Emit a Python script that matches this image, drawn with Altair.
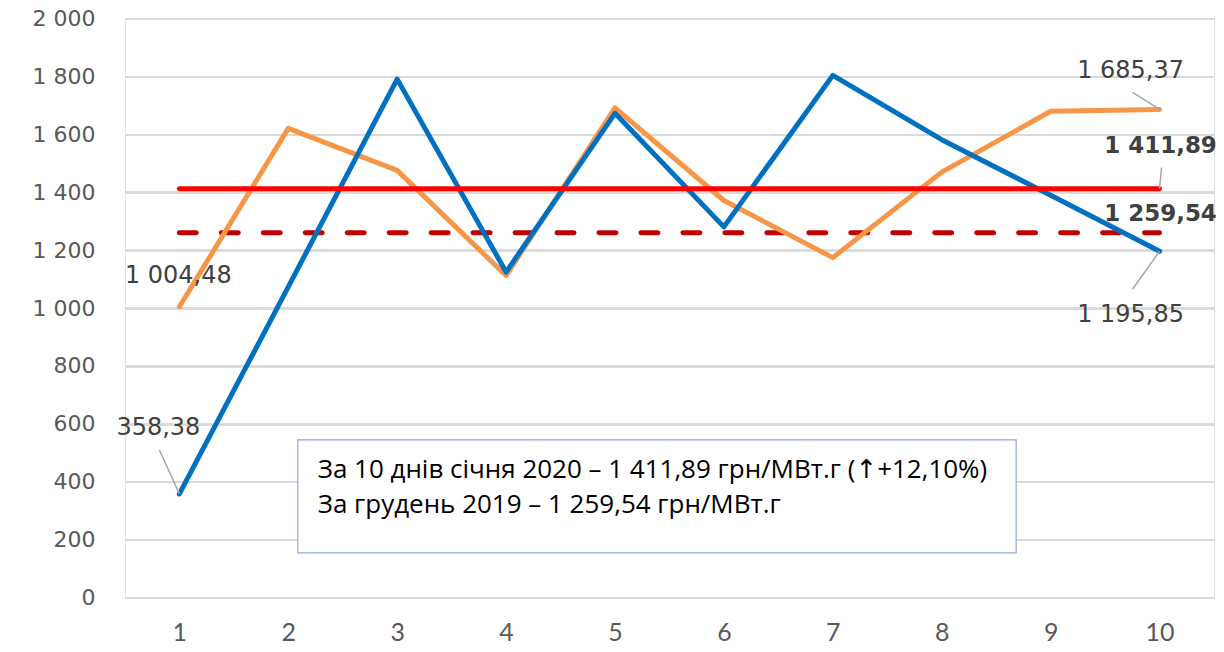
import altair as alt
import pandas as pd

# ---- data ----
days = [str(i) for i in range(1, 11)]
blue_vals = [358.38, 1073, 1790, 1124, 1672, 1280, 1803, 1581, 1389, 1195.85]
orange_vals = [1004.48, 1620, 1475, 1112, 1691, 1371, 1174, 1469, 1679, 1685.37]
avg_jan_2020 = 1411.89
avg_dec_2019 = 1259.54
y_ticks = list(range(0, 2001, 200))
box_lines = [
    "За 10 днів січня 2020 – 1 411,89 грн/МВт.г (↑+12,10%)",
    "За грудень 2019 – 1 259,54 грн/МВт.г",
]

BLUE = "#0070C0"
ORANGE = "#F79646"
RED = "#FF0000"
DARKRED = "#C00000"
GRID = "#D9D9D9"
LABEL = "#404040"
TICK = "#595959"
LEADER = "#A6A6A6"
LABEL_FONT = "DejaVu Sans"
XFONT = "Lato"
BOX_FONT = "Open Sans, DejaVu Sans"


def fmt(v):
    s = f"{v:,.2f}"
    return s.replace(",", " ").replace(".", ",")


series_df = pd.DataFrame({
    "day": days * 2,
    "value": blue_vals + orange_vals,
    "series": ["blue"] * 10 + ["orange"] * 10,
})
ref_df = pd.DataFrame({
    "day": days * 2,
    "value": [avg_jan_2020] * 10 + [avg_dec_2019] * 10,
    "series": ["jan"] * 10 + ["dec"] * 10,
})

x_enc = alt.X(
    "day:O", sort=days,
    scale=alt.Scale(type="point", padding=0.5),
    axis=alt.Axis(title=None, labelAngle=0, domain=False, ticks=False, grid=False,
                  labelFont=XFONT, labelFontSize=25, labelColor=TICK,
                  labelPadding=23),
)
y_enc = alt.Y(
    "value:Q",
    scale=alt.Scale(domain=[0, 2000], nice=False),
    axis=alt.Axis(title=None, values=y_ticks, domain=False, ticks=False, grid=True,
                  gridColor=GRID, gridWidth=1.5,
                  labelExpr="replace(format(datum.value, ','), ',', ' ')",
                  labelFont=LABEL_FONT, labelFontSize=22, labelColor=TICK,
                  labelPadding=30),
)

base = alt.Chart(series_df)

# annotation box
box_df = pd.DataFrame({"t": ["box"]})
box = alt.Chart(box_df).mark_rect(fill="white", stroke="#8FAADC", strokeWidth=1.2).encode(
    x=alt.value(173), x2=alt.value(892), y=alt.value(422), y2=alt.value(535)
)
box_text_df = pd.DataFrame({"text": box_lines, "row": [0, 1]})
box_text = alt.Chart(box_text_df).mark_text(
    align="left", baseline="middle", font=BOX_FONT, fontSize=26, color="black"
).encode(
    x=alt.value(193),
    y=alt.Y("row:O", scale=alt.Scale(type="point", range=[452, 487], padding=0), axis=None),
    text="text:N",
)

dashed = alt.Chart(ref_df).transform_filter("datum.series == 'dec'").mark_line(
    color=DARKRED, strokeWidth=5, strokeDash=[17, 25], strokeCap="round"
).encode(x=x_enc, y=y_enc)
solid = alt.Chart(ref_df).transform_filter("datum.series == 'jan'").mark_line(
    color=RED, strokeWidth=5, strokeCap="round"
).encode(x=x_enc, y=y_enc)
orange = base.transform_filter("datum.series == 'orange'").mark_line(
    color=ORANGE, strokeWidth=5, strokeCap="round", strokeJoin="round"
).encode(x=x_enc, y=y_enc)
blue = base.transform_filter("datum.series == 'blue'").mark_line(
    color=BLUE, strokeWidth=5, strokeCap="round", strokeJoin="round"
).encode(x=x_enc, y=y_enc)

# data labels (day, value, dx, dy, bold, leader dx/dy)
label_specs = [
    ("1", blue_vals[0], -21, -66, False, (-20, -44)),
    ("1", orange_vals[0], -1, -31, False, None),
    ("10", orange_vals[-1], -29, -38, False, (-27, -17)),
    ("10", avg_jan_2020, 1, -43, True, (2, -21)),
    ("10", avg_dec_2019, 1, -19, True, None),
    ("10", blue_vals[-1], -29, 64, False, (-27, 38)),
]

layers = [box, box_text, dashed, orange, blue, solid]
for day, val, dx, dy, bold, leader in label_specs:
    d = pd.DataFrame({"day": [day], "value": [val], "label": [fmt(val)]})
    if leader is not None:
        layers.append(
            alt.Chart(d).mark_rule(color=LEADER, strokeWidth=1.5,
                                   x2Offset=leader[0], y2Offset=leader[1]).encode(
                x=x_enc, y=y_enc, x2="day:O", y2="value:Q")
        )
    layers.append(
        alt.Chart(d).mark_text(
            dx=dx, dy=dy, font=LABEL_FONT, fontSize=23 if bold else 24, color=LABEL,
            fontWeight="bold" if bold else "normal", align="center", baseline="middle"
        ).encode(x=x_enc, y=y_enc, text="label:N")
    )

chart = alt.layer(*layers).properties(
    width=1090, height=580,
    autosize=alt.AutoSizeParams(type="none"),
    padding={"left": 117, "top": 10, "right": 2, "bottom": 46},
).configure_view(stroke=None).configure(background="white")

chart.save("out.html", embed_options={"renderer": "svg", "actions": False})
